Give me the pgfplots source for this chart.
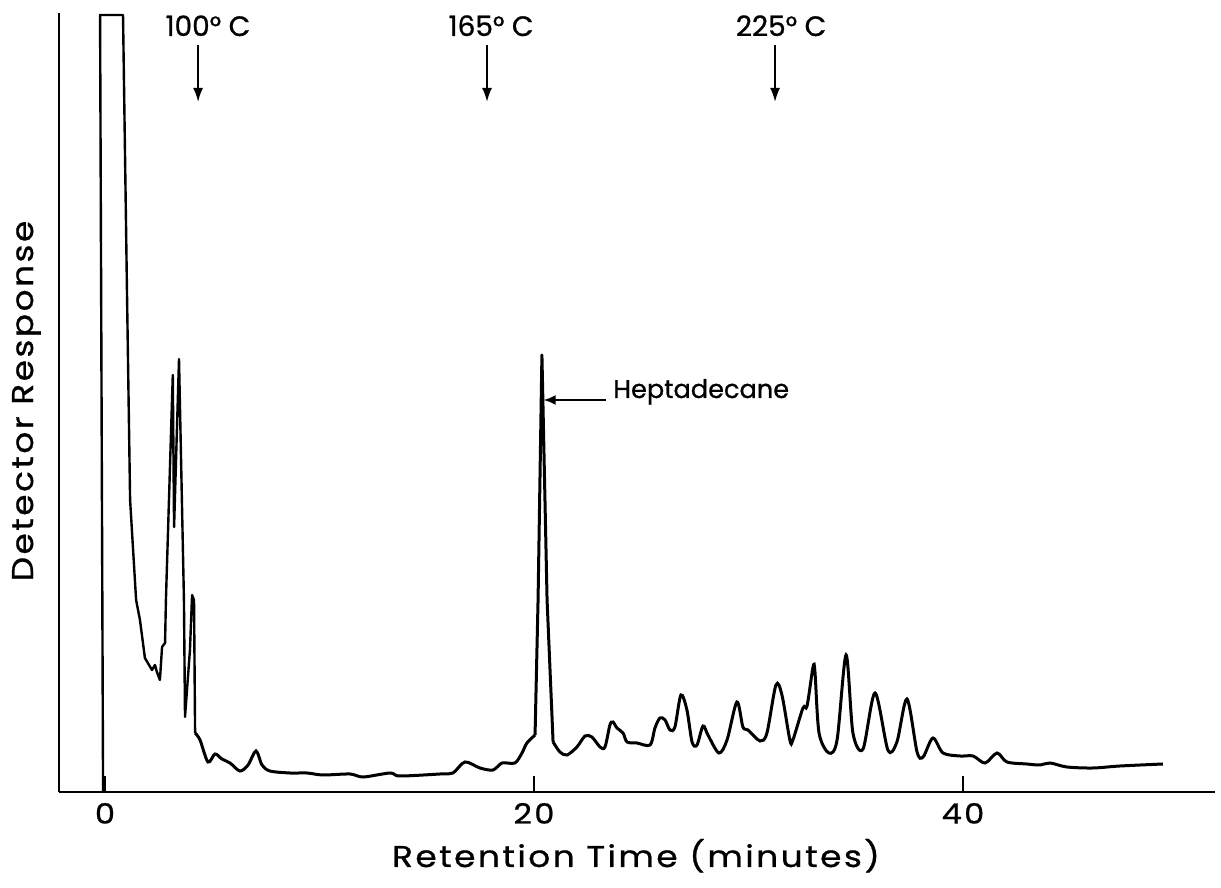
\documentclass[border=0pt]{standalone}
\usepackage{fontspec}
\setmainfont{Poppins}[FakeBold=0.8]
\newfontfamily\lbl[FakeStretch=1.15, LetterSpace=8, FakeBold=0.8]{Poppins}
\usepackage{pgfplots}
\pgfplotsset{compat=1.18}
\usetikzlibrary{arrows.meta}
\begin{document}
\begin{tikzpicture}
\begin{axis}[
  at={(0,0)}, anchor=south west,
  scale only axis, width=578pt, height=389.5pt,
  xmin=-2.145, xmax=51.75, ymin=0, ymax=779,
  axis lines=left, axis line style={line width=1.3pt, -},
  xtick={0,20,40}, ytick=\empty,
  tick align=inside, major tick length=8pt,
  tick style={line width=1.2pt, black},
  xticklabel style={font=\lbl\fontsize{14}{16}\selectfont, yshift=-2pt},
  /pgf/number format/assume math mode=true,
  clip=false,
]
% solvent peak and early sharp peaks
\addplot[black, line width=1.2pt, line join=round] coordinates {
(-0.09,0) (-0.23,777) (0.84,777) (1.03,492) (1.17,292) (1.45,192)
(1.63,172) (1.77,149) (1.86,134) (2.19,122) (2.33,127) (2.42,120)
(2.56,112) (2.66,145) (2.80,149) (2.84,192) (3.16,417) (3.22,265)
(3.45,433) (3.68,192) (3.73,75) (3.96,142) (4.06,197) (4.15,192) (4.20,59)
};
% baseline region
\addplot[black, line width=1.5pt, smooth, tension=0.5] coordinates {
(4.20,59) (4.43,52) (4.80,30) (5.13,38) (5.45,33) (5.83,29) (6.29,21)
(6.67,27) (7.04,41) (7.32,27) (7.69,21) (8.62,19) (9.42,19) (10.16,17)
(11.42,18) (12.03,15) (13.29,19) (13.75,16) (15.62,18) (16.22,19)
(16.78,30) (17.48,24) (18.09,22) (18.51,29) (19.11,29) (19.44,39)
(19.67,49) (20.05,57)
};
% heptadecane
\addplot[black, line width=1.5pt, line join=round] coordinates {
(20.05,57) (20.19,192) (20.37,437) (20.61,192) (20.89,50)
};
% later peaks
\addplot[black, line width=1.5pt, smooth, tension=0.5] coordinates {
(20.89,50) (21.21,40) (21.54,37) (22.00,45) (22.38,56) (22.70,55)
(23.08,45) (23.31,45) (23.54,67) (23.68,70) (23.87,64) (24.15,59)
(24.34,50) (24.80,49) (25.41,47) (25.64,64) (25.87,74) (26.11,72)
(26.34,62) (26.57,65) (26.85,97) (27.13,82) (27.37,50) (27.60,47)
(27.88,66) (28.11,57) (28.62,39) (29.00,52) (29.46,90) (29.74,65)
(29.98,62) (30.54,51) (30.86,59) (31.28,107) (31.56,97) (31.93,52)
(32.07,52) (32.54,84) (32.73,86) (33.01,125) (33.10,120) (33.29,59)
(33.75,39) (34.13,52) (34.55,137) (34.87,59) (35.34,43) (35.90,99)
(36.50,42) (36.92,50) (37.39,93) (37.86,40) (38.14,35) (38.60,54)
(39.07,39) (39.86,36) (40.47,36) (41.03,29) (41.59,39) (42.05,30)
(42.98,28) (43.59,27) (44.06,29) (44.85,25) (46.06,24) (47.32,26)
(49.32,28)
};
% annotations
\node[anchor=base, font=\fontsize{14}{16}\selectfont] at (axis cs:4.80,756) {100° C};
\node[anchor=base, font=\fontsize{14}{16}\selectfont] at (axis cs:18.0,756) {165° C};
\node[anchor=base, font=\fontsize{14}{16}\selectfont] at (axis cs:31.52,756) {225° C};
\draw[-{Latex[length=7pt,width=5pt]}, line width=1pt] (axis cs:4.34,747) -- (axis cs:4.34,690);
\draw[-{Latex[length=7pt,width=5pt]}, line width=1pt] (axis cs:17.81,747) -- (axis cs:17.81,690);
\draw[-{Latex[length=7pt,width=5pt]}, line width=1pt] (axis cs:31.24,747) -- (axis cs:31.24,690);
\node[anchor=base west, font=\fontsize{12.8}{15}\selectfont, inner sep=0pt] at (axis cs:23.68,394) {Heptadecane};
\draw[-{Latex[length=6pt,width=5pt]}, line width=1pt] (axis cs:23.35,392) -- (axis cs:20.45,392);
\end{axis}
\node[anchor=base, font=\lbl\fontsize{15}{18}\selectfont] at (288.5pt,-37.5pt) {Retention Time (minutes)};
\node[rotate=90, anchor=base, font=\lbl\fontsize{15}{18}\selectfont] at (-13pt,195.5pt) {Detector Response};
\pgfresetboundingbox
\useasboundingbox (-29.5pt,-48pt) rectangle (581pt,396pt);
\end{tikzpicture}
\end{document}
